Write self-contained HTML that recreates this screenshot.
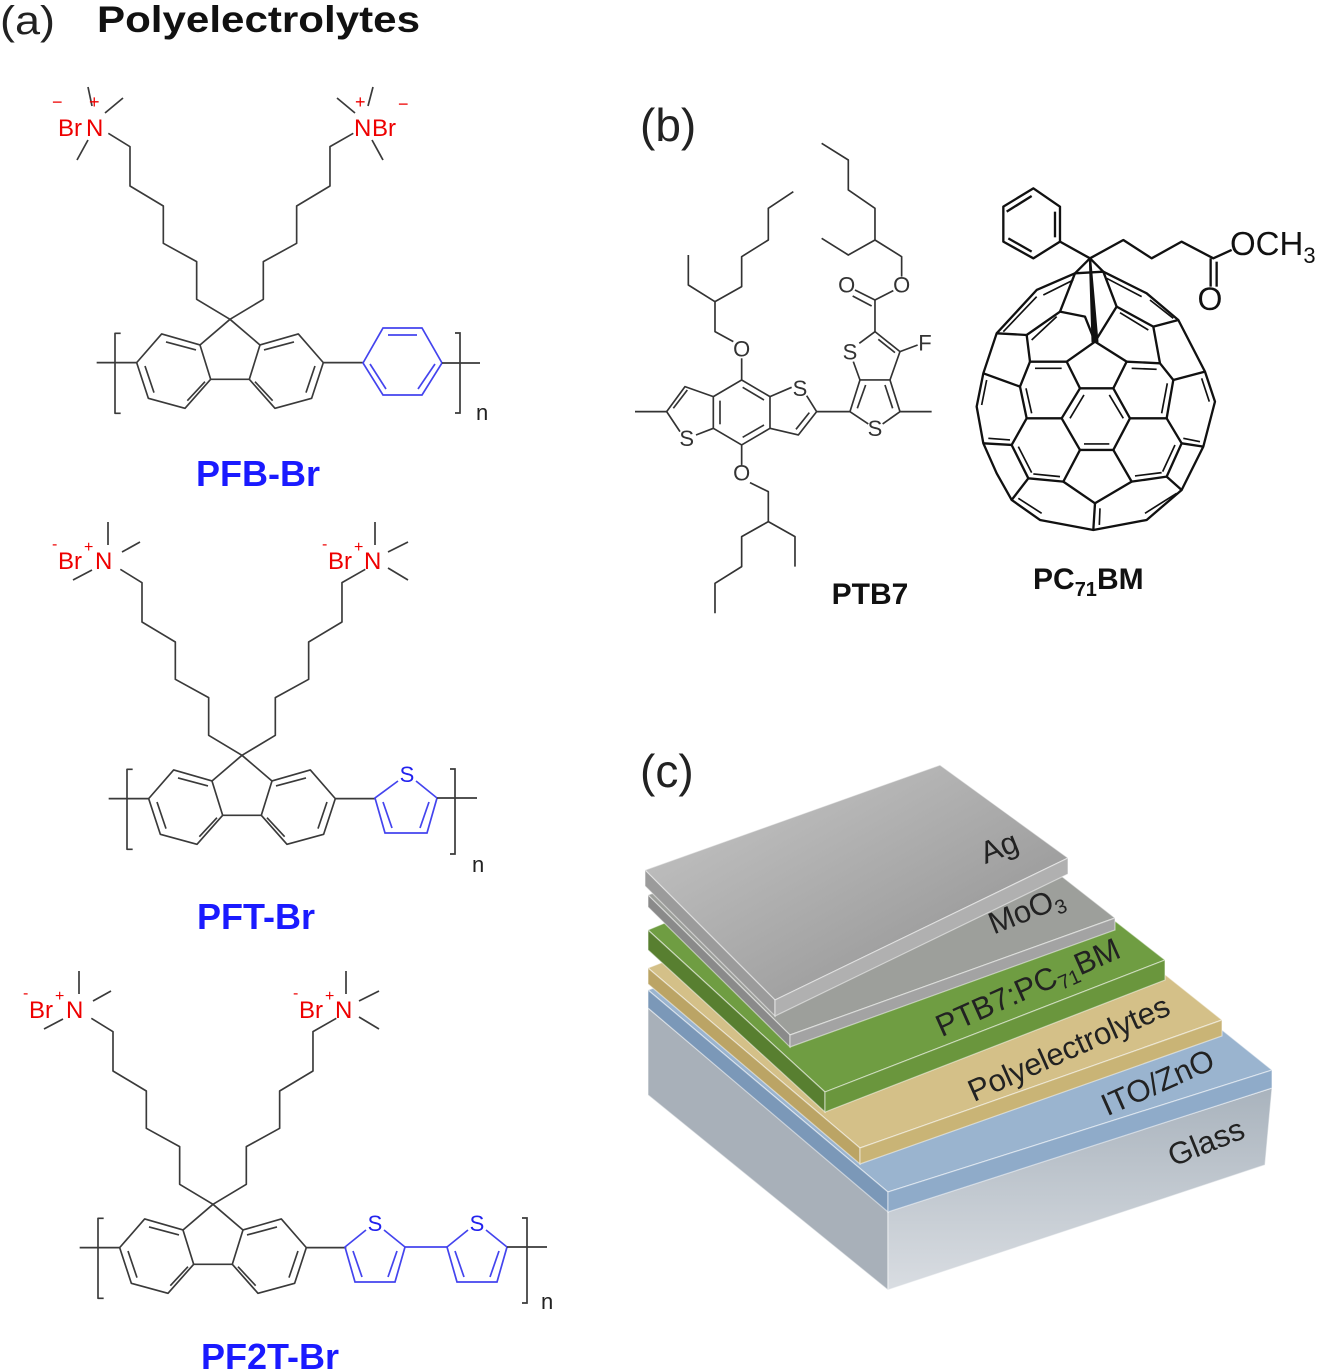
<!DOCTYPE html>
<html><head><meta charset="utf-8"><style>
html,body{margin:0;padding:0;background:#fff}
svg{display:block}
text{font-family:"Liberation Sans",Arial,sans-serif}
</style></head><body>
<svg width="1323" height="1370" viewBox="0 0 1323 1370" xmlns="http://www.w3.org/2000/svg">
<defs>
<g id="core" fill="none" stroke="#3a3a3a" stroke-width="5" stroke-linejoin="round">
  <polyline points="420,718 320,658 320,545 220,490 220,378 120,318 120,200 55,160"/>
  <polyline points="420,718 520,658 520,545 620,490 620,378 720,318 720,200 790,160"/>
  <line x1="420" y1="718" x2="330" y2="795"/><line x1="420" y1="718" x2="510" y2="795"/>
  <line x1="362" y1="898" x2="478" y2="898"/>
  <polygon points="330,795 215,762 140,848 175,955 285,985 362,898"/>
  <polygon points="510,795 625,762 700,848 665,955 555,985 478,898"/>
  <line x1="228" y1="786" x2="318" y2="810"/><line x1="165" y1="858" x2="192" y2="938"/><line x1="292" y1="962" x2="345" y2="905"/>
  <line x1="522" y1="810" x2="612" y2="786"/><line x1="675" y1="858" x2="648" y2="938"/><line x1="495" y1="905" x2="548" y2="962"/>
  <line x1="20" y1="848" x2="140" y2="848"/><line x1="700" y1="848" x2="820" y2="848"/>
  <polyline points="92,760 75,760 75,1000 92,1000"/>
</g>
<linearGradient id="gside" x1="0" y1="0" x2="0" y2="1"><stop offset="0" stop-color="#a9b3bd"/><stop offset="1" stop-color="#d9dde2"/></linearGradient>
<linearGradient id="agtop" x1="0" y1="0" x2="1" y2="1"><stop offset="0" stop-color="#c9c9c9"/><stop offset="1" stop-color="#8d8d8d"/></linearGradient>
</defs>

<!-- headings -->
<text x="0" y="34" font-size="40" fill="#222" textLength="55" lengthAdjust="spacingAndGlyphs">(a)</text>
<text x="97" y="32" font-size="37" font-weight="bold" fill="#111" textLength="323" lengthAdjust="spacingAndGlyphs">Polyelectrolytes</text>
<text x="640" y="141" font-size="46" fill="#222">(b)</text>
<text x="640" y="787" font-size="46" fill="#222">(c)</text>

<!-- PFB-Br -->
<use href="#core" transform="translate(90,80) scale(0.3333)"/>
<g fill="none" stroke="#4444ee" stroke-width="1.7">
  <polygon points="363,363 383,328 422,328 442,363 422,395 383,395"/>
  <line x1="388" y1="335" x2="417" y2="335"/><line x1="435" y1="364" x2="418" y2="389"/><line x1="370" y1="364" x2="386" y2="389"/>
</g>
<g stroke="#3a3a3a" stroke-width="1.7" fill="none">
  <line x1="442" y1="363" x2="480" y2="363"/>
  <polyline points="455,333 460,333 460,413 455,413"/>
  <line x1="123" y1="98" x2="105" y2="113"/><line x1="88" y1="87" x2="92" y2="106"/><line x1="88" y1="140" x2="77" y2="160"/>
  <line x1="337" y1="98" x2="355" y2="113"/><line x1="373" y1="87" x2="368" y2="106"/><line x1="372" y1="140" x2="383" y2="160"/>
</g>
<text x="476" y="420" font-size="22" fill="#222">n</text>
<g fill="#ee0000" font-size="24">
  <text x="58" y="136">Br</text><text x="86" y="136">N</text>
  <text x="52" y="108" font-size="18">−</text><text x="89" y="108" font-size="18">+</text>
  <text x="354" y="136">N</text><text x="372" y="136">Br</text>
  <text x="355" y="108" font-size="18">+</text><text x="398" y="110" font-size="18">−</text>
</g>
<text x="258" y="486" font-size="36" font-weight="bold" fill="#1a1aff" text-anchor="middle">PFB-Br</text>

<!-- PFT-Br -->
<g transform="translate(12,436)">
  <use href="#core" transform="translate(90,80) scale(0.3333)"/>
  <g fill="none" stroke="#4444ee" stroke-width="1.7">
    <polyline points="386,345 363,362 373,397 415,397 425,362 404,345"/>
    <line x1="371" y1="366" x2="380" y2="392"/><line x1="417" y1="366" x2="408" y2="392"/>
  </g>
  <text x="395" y="346" font-size="22" fill="#2222ee" text-anchor="middle">S</text>
  <g stroke="#3a3a3a" stroke-width="1.7" fill="none">
    <line x1="425" y1="362" x2="465" y2="362"/>
    <polyline points="438,333 443,333 443,418 438,418"/>
  </g>
  <text x="460" y="436" font-size="22" fill="#222">n</text>
</g>
<g id="nlab">
<g stroke="#3a3a3a" stroke-width="1.7">
  <line x1="108" y1="522" x2="108" y2="545"/><line x1="122" y1="552" x2="140" y2="542"/><line x1="92" y1="570" x2="73" y2="580"/>
  <line x1="375" y1="522" x2="375" y2="545"/><line x1="388" y1="552" x2="408" y2="542"/><line x1="388" y1="568" x2="408" y2="580"/>
</g>
<g fill="#ee0000" font-size="24">
  <text x="52" y="549" font-size="16">-</text><text x="58" y="569">Br</text><text x="84" y="552" font-size="16">+</text><text x="95" y="569">N</text>
  <text x="322" y="549" font-size="16">-</text><text x="328" y="569">Br</text><text x="354" y="552" font-size="16">+</text><text x="364" y="569">N</text>
</g>
</g>
<text x="256" y="929" font-size="36" font-weight="bold" fill="#1a1aff" text-anchor="middle">PFT-Br</text>

<!-- PF2T-Br -->
<g transform="translate(-17,885)">
  <use href="#core" transform="translate(90,80) scale(0.3333)"/>
  <g fill="none" stroke="#4444ee" stroke-width="1.7">
    <polyline points="383,345 362,362 372,397 412,397 422,362 401,345"/>
    <line x1="370" y1="366" x2="379" y2="392"/><line x1="414" y1="366" x2="405" y2="392"/>
    <line x1="422" y1="362" x2="464" y2="362"/>
    <polyline points="485,345 464,362 474,397 514,397 524,362 503,345"/>
    <line x1="472" y1="366" x2="481" y2="392"/><line x1="516" y1="366" x2="507" y2="392"/>
  </g>
  <text x="392" y="346" font-size="22" fill="#2222ee" text-anchor="middle">S</text>
  <text x="494" y="346" font-size="22" fill="#2222ee" text-anchor="middle">S</text>
  <g stroke="#3a3a3a" stroke-width="1.7" fill="none">
    <line x1="524" y1="362" x2="564" y2="362"/>
    <polyline points="539,333 544,333 544,418 539,418"/>
  </g>
  <text x="558" y="424" font-size="22" fill="#222">n</text>
</g>
<use href="#nlab" transform="translate(-29,449)"/>
<text x="270" y="1369" font-size="36" font-weight="bold" fill="#1a1aff" text-anchor="middle">PF2T-Br</text>

<!-- PTB7 -->
<g transform="translate(620,130) scale(0.3333)">
<g fill="none" stroke="#333" stroke-width="5" stroke-linejoin="round">
  <line x1="45" y1="845" x2="140" y2="845"/>
  <polyline points="180,905 140,845 195,770 280,800"/><line x1="160" y1="835" x2="202" y2="780"/>
  <line x1="228" y1="915" x2="280" y2="895"/>
  <polygon points="280,800 365,750 450,800 450,895 365,945 280,895"/>
  <line x1="368" y1="772" x2="432" y2="810"/><line x1="432" y1="885" x2="368" y2="922"/><line x1="300" y1="812" x2="300" y2="883"/>
  <line x1="450" y1="800" x2="515" y2="772"/>
  <polyline points="560,797 590,845 535,915 450,895"/><line x1="568" y1="848" x2="528" y2="898"/>
  <line x1="365" y1="750" x2="365" y2="685"/>
  <polyline points="340,635 285,605 285,515 205,465 205,375"/>
  <polyline points="285,515 365,470 365,380 445,330 445,235 520,185"/>
  <line x1="365" y1="945" x2="365" y2="1005"/>
  <polyline points="390,1058 445,1085 445,1175 525,1220 525,1310"/>
  <polyline points="445,1175 365,1220 365,1310 285,1360 285,1450"/>
  <line x1="590" y1="845" x2="690" y2="845"/>
  <polyline points="745,882 690,845 720,750 810,750 840,845 788,882"/>
  <line x1="712" y1="835" x2="737" y2="765"/><line x1="818" y1="835" x2="795" y2="765"/>
  <line x1="840" y1="845" x2="935" y2="845"/>
  <line x1="720" y1="750" x2="700" y2="695"/>
  <polyline points="718,640 765,605 840,665 810,750"/><line x1="775" y1="628" x2="825" y2="668"/>
  <line x1="840" y1="665" x2="893" y2="645"/>
  <line x1="765" y1="605" x2="765" y2="510"/>
  <line x1="765" y1="510" x2="705" y2="480"/><line x1="755" y1="528" x2="698" y2="498"/>
  <line x1="765" y1="510" x2="820" y2="482"/>
  <polyline points="845,440 845,380 765,330 685,375 605,325"/>
  <polyline points="765,330 765,235 685,180 685,90 605,40"/>
</g>
<g font-size="66" fill="#333" text-anchor="middle">
  <text x="200" y="948">S</text><text x="540" y="798">S</text><text x="765" y="918">S</text><text x="690" y="688">S</text>
  <text x="365" y="680">O</text><text x="365" y="1052">O</text><text x="680" y="488">O</text><text x="845" y="488">O</text>
  <text x="915" y="662">F</text>
</g>
</g>
<text x="870" y="604" font-size="30" font-weight="bold" fill="#111" text-anchor="middle">PTB7</text>

<!-- PC71BM -->
<g transform="translate(960,180) scale(0.3333)">
<g fill="none" stroke="#111" stroke-width="7" stroke-linejoin="round">
  <polygon points="220,25 300,80 300,185 220,235 130,185 130,80"/>
  <line x1="140" y1="95" x2="215" y2="48"/><line x1="285" y1="95" x2="285" y2="172"/><line x1="215" y1="215" x2="145" y2="175"/>
  <polyline points="300,185 390,235 490,180 575,235 665,185 760,235 815,210"/>
  <line x1="752" y1="235" x2="752" y2="320"/><line x1="770" y1="245" x2="770" y2="320"/>
  <polygon points="345,280 230,330 110,460 70,580 50,680 70,790 110,880 155,960 240,1020 400,1050 560,1020 665,930 730,800 765,665 735,575 655,420 560,340 430,275"/>
  <polyline points="345,280 390,235 430,275"/>
  <polygon points="390,235 398,485 412,485" fill="#111"/>
  <polygon points="360,625 460,625 510,715 460,810 360,810 305,715"/>
  <polyline points="360,625 320,545 405,485 500,545 460,625"/>
  <polyline points="320,545 210,545 180,620 200,715 305,715"/>
  <polyline points="500,545 600,550 640,600 620,715 510,715"/>
  <polyline points="200,715 155,795 205,895 310,905 360,810"/>
  <polyline points="620,715 665,790 620,890 515,905 460,810"/>
  <polyline points="310,905 405,970 515,905"/>
  <line x1="405" y1="970" x2="400" y2="1050"/>
  <line x1="210" y1="545" x2="200" y2="465"/><line x1="200" y1="465" x2="110" y2="460"/>
  <polyline points="200,465 300,395 375,410 405,485"/><line x1="300" y1="395" x2="345" y2="280"/>
  <polyline points="600,550 580,440 470,380 405,485"/><line x1="470" y1="380" x2="430" y2="275"/>
  <line x1="580" y1="440" x2="655" y2="420"/>
  <line x1="180" y1="620" x2="70" y2="580"/><line x1="155" y1="795" x2="70" y2="790"/>
  <line x1="205" y1="895" x2="155" y2="960"/><line x1="620" y1="890" x2="665" y2="930"/>
  <line x1="665" y1="790" x2="730" y2="800"/><line x1="640" y1="600" x2="735" y2="575"/>
  <g stroke-width="5">
    <line x1="372" y1="645" x2="330" y2="715"/><line x1="448" y1="645" x2="490" y2="715"/><line x1="372" y1="792" x2="448" y2="792"/>
    <line x1="225" y1="565" x2="305" y2="565"/><line x1="198" y1="625" x2="215" y2="700"/>
    <line x1="515" y1="565" x2="590" y2="568"/><line x1="622" y1="610" x2="605" y2="700"/>
    <line x1="175" y1="800" x2="215" y2="878"/><line x1="645" y1="795" x2="608" y2="875"/>
    <line x1="220" y1="882" x2="300" y2="890"/><line x1="525" y1="888" x2="605" y2="878"/>
    <line x1="420" y1="985" x2="418" y2="1035"/><line x1="175" y1="955" x2="245" y2="1000"/><line x1="555" y1="1000" x2="650" y2="940"/>
    <line x1="80" y1="600" x2="65" y2="675"/><line x1="725" y1="595" x2="748" y2="665"/>
    <line x1="85" y1="775" x2="150" y2="780"/><line x1="670" y1="775" x2="720" y2="785"/>
    <line x1="215" y1="480" x2="290" y2="410"/><line x1="480" y1="398" x2="565" y2="450"/>
    <line x1="130" y1="455" x2="230" y2="350"/><line x1="570" y1="360" x2="640" y2="415"/>
    <line x1="250" y1="345" x2="340" y2="300"/><line x1="440" y1="295" x2="545" y2="350"/>
  </g>
</g>
<text x="750" y="390" font-size="96" fill="#111" text-anchor="middle">O</text>
</g>
<text x="1230" y="255" font-size="33" fill="#111">OCH<tspan font-size="22" dy="8">3</tspan></text>
<text x="1033" y="589" font-size="30" font-weight="bold" fill="#111">PC<tspan font-size="20" dy="7">71</tspan><tspan dy="-7">BM</tspan></text>

<!-- device stack -->
<g stroke="#ffffff" stroke-opacity="0.5" stroke-width="1.2">
  <polygon points="648,1008 888,1210 888,1290 648,1095" fill="#a8b0b9"/>
  <polygon points="888,1210 1272,1088 1265,1165 888,1290" fill="url(#gside)"/>
  <polygon points="648,990 1010,860 1272,1070 888,1192" fill="#9ab4cf"/>
  <polygon points="648,990 888,1192 888,1212 648,1008" fill="#7b98b8"/>
  <polygon points="888,1192 1272,1070 1272,1088 888,1212" fill="#8fabc9"/>
  <polygon points="648,968 990,835 1222,1020 860,1148" fill="#d4c088"/>
  <polygon points="648,968 860,1148 860,1164 648,984" fill="#bba465"/>
  <polygon points="860,1148 1222,1020 1222,1036 860,1164" fill="#c9b476"/>
  <polygon points="648,930 960,800 1165,960 825,1092" fill="#6f9d42"/>
  <polygon points="648,930 825,1092 825,1112 648,950" fill="#587f30"/>
  <polygon points="825,1092 1165,960 1165,980 825,1112" fill="#6a963d"/>
  <polygon points="648,895 945,785 1115,918 790,1035" fill="#9d9f9b"/>
  <polygon points="648,895 790,1035 790,1047 648,907" fill="#8a8a8a"/>
  <polygon points="790,1035 1115,918 1115,930 790,1047" fill="#a3a3a3"/>
  <polygon points="645,870 940,765 1068,858 775,1000" fill="url(#agtop)"/>
  <polygon points="645,870 775,1000 775,1016 645,886" fill="#9b9b9b"/>
  <polygon points="775,1000 1068,858 1068,874 775,1016" fill="#b0b0b0"/>
</g>
<g font-size="31" fill="#222" text-anchor="middle">
  <text transform="translate(1003,857) rotate(-22)">Ag</text>
  <text transform="translate(1030,920) rotate(-22)">MoO<tspan font-size="20" dy="6">3</tspan></text>
  <text transform="translate(1032,997) rotate(-24)">PTB7:PC<tspan font-size="20" dy="6">71</tspan><tspan dy="-6">BM</tspan></text>
  <text transform="translate(1073,1058) rotate(-24)">Polyelectrolytes</text>
  <text transform="translate(1162,1092) rotate(-24)">ITO/ZnO</text>
  <text transform="translate(1210,1152) rotate(-22)">Glass</text>
</g>
</svg>
</body></html>
